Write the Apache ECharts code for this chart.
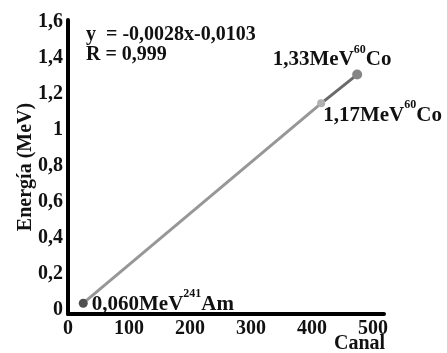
<!DOCTYPE html>
<html>
<head>
<meta charset="utf-8">
<script src="https://cdn.jsdelivr.net/npm/echarts@6/dist/echarts.min.js"></script>
<style>
  html, body { margin: 0; padding: 0; background: #fff; }
  #chart { width: 447px; height: 353px; }
</style>
</head>
<body>
<div id="chart"></div>
<script>
// Calibration points: channel vs. energy
var canal   = [25, 415, 474];
var energia = [0.060, 1.17, 1.33];
var labelMain = ['0,060MeV', '1,17MeV', '1,33MeV'];
var labelSup  = ['241', '60', '60'];
var labelEnd  = ['Am', 'Co', 'Co'];

var xTicks = [0, 100, 200, 300, 400, 500];
var yTicks = [0, 0.2, 0.4, 0.6, 0.8, 1, 1.2, 1.4, 1.6];

var fitText = ['y  = -0,0028x-0,0103', 'R = 0,999'];
var xName = 'Canal';
var yName = 'Energía (MeV)';

var FONT = '"Liberation Serif", "Times New Roman", serif';
var INK = '#111';

function pt(i) { return [canal[i], energia[i]]; }

function richLabel(i) {
  return '{m|' + labelMain[i] + '}{s|' + labelSup[i] + '}{m|' + labelEnd[i] + '}';
}
var rich = {
  m: { fontFamily: FONT, fontWeight: 'bold', fontSize: 21, color: INK, padding: [6, 0, 0, 0] },
  s: { fontFamily: FONT, fontWeight: 'bold', fontSize: 12, color: INK, verticalAlign: 'top' }
};
function pointLabel(i, extra) {
  var base = { show: true, color: INK, textBorderWidth: 0, formatter: richLabel(i), rich: rich };
  for (var k in extra) base[k] = extra[k];
  return base;
}

var chart = echarts.init(document.getElementById('chart'));
chart.setOption({
  animation: false,
  backgroundColor: '#fff',
  grid: { left: 68, right: 63, top: 20, bottom: 39, containLabel: false },
  xAxis: {
    type: 'value', min: 0, max: 518, interval: 100,
    axisLine: { lineStyle: { color: '#000', width: 4 } },
    axisTick: { show: false },
    splitLine: { show: false },
    axisLabel: {
      showMaxLabel: false, margin: 5,
      fontFamily: FONT, fontWeight: 'bold', fontSize: 20, color: INK,
      formatter: function (v) { return xTicks.indexOf(v) >= 0 ? String(v) : ''; }
    }
  },
  yAxis: {
    type: 'value', min: 0, max: 1.633, interval: 0.2,
    name: yName, nameLocation: 'middle', nameGap: 32, nameRotate: 90, nameMoveOverlap: false,
    nameTextStyle: { fontFamily: FONT, fontWeight: 'bold', fontSize: 20, color: INK },
    axisLine: { show: true, lineStyle: { color: '#000', width: 4 } },
    axisTick: { show: false },
    splitLine: { show: false },
    axisLabel: {
      showMaxLabel: false, margin: 5, verticalAlign: 'middle',
      rich: { t: { fontFamily: FONT, fontWeight: 'bold', fontSize: 20, color: INK, padding: [0, 0, 8, 0] } },
      formatter: function (v) {
        var r = Math.round(v * 10) / 10;
        return yTicks.indexOf(r) >= 0 ? '{t|' + String(r).replace('.', ',') + '}' : '';
      }
    }
  },
  series: [
    {
      type: 'line', data: [pt(0), pt(1)], showSymbol: false, z: 2,
      lineStyle: { color: '#979797', width: 3 }
    },
    {
      type: 'line', data: [pt(1), pt(2)], showSymbol: false, z: 2,
      lineStyle: { color: '#6a6a6a', width: 3 }
    },
    {
      type: 'scatter', z: 3,
      itemStyle: { opacity: 1 },
      data: [
        { value: pt(0), symbolSize: 9, itemStyle: { color: '#4f4f4f', opacity: 1 },
          label: pointLabel(0, { position: 'right', distance: 4, offset: [0, -2] }) },
        { value: pt(1), symbolSize: 8, itemStyle: { color: '#b0b0b0', opacity: 1 },
          label: pointLabel(1, { position: 'right', distance: 0, offset: [-2, 9] }) },
        { value: pt(2), symbolSize: 10, itemStyle: { color: '#858585', opacity: 1 },
          label: pointLabel(2, { position: 'top', distance: 2, offset: [-25, 3] }) }
      ]
    }
  ],
  graphic: [
    { type: 'text', left: 86, top: 25,
      style: { text: fitText[0], font: 'bold 20px ' + FONT, fill: INK } },
    { type: 'text', left: 86, top: 45,
      style: { text: fitText[1], font: 'bold 20px ' + FONT, fill: INK } },
    { type: 'text', left: 334, top: 334,
      style: { text: xName, font: 'bold 20px ' + FONT, fill: INK } }
  ]
});
</script>
</body>
</html>
